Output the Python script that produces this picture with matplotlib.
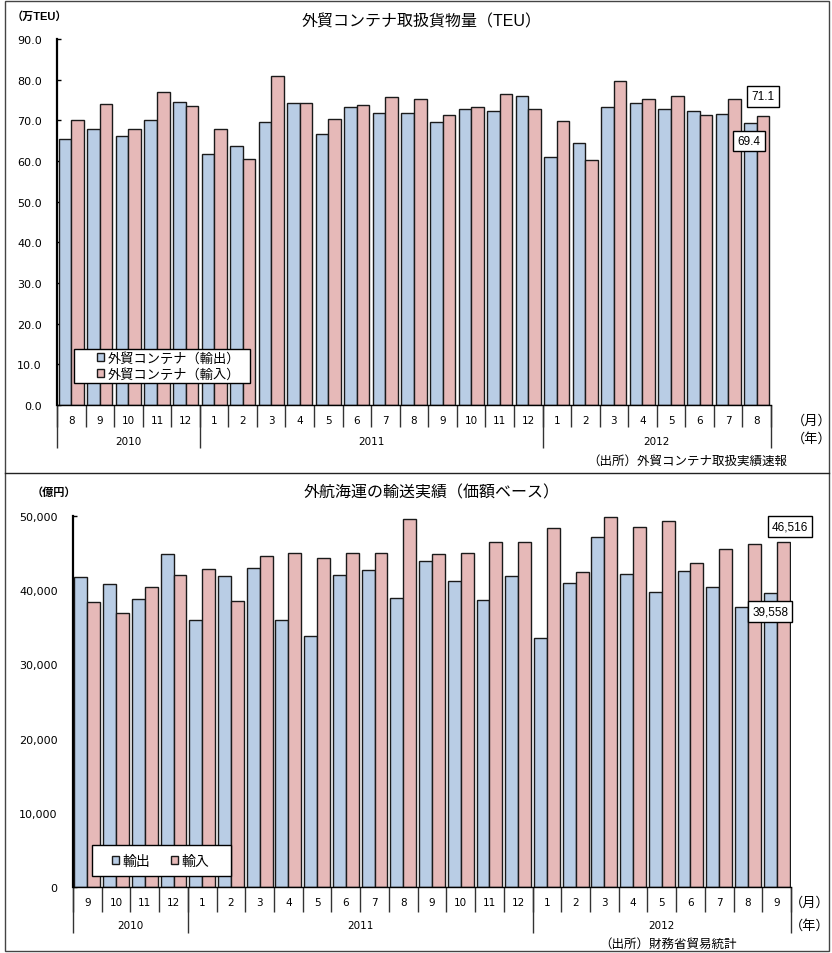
import numpy as np
import matplotlib
matplotlib.use("Agg")
import matplotlib.pyplot as plt
from matplotlib.patches import Patch, Rectangle
from matplotlib.lines import Line2D

plt.rcParams['font.family'] = ['Liberation Sans', 'Noto Sans CJK JP']

# 上: 外貿コンテナ取扱貨物量（万TEU）
teu_years = ['2010', '2011', '2012']
teu_months = [8, 9, 10, 11, 12,
              1, 2, 3, 4, 5, 6, 7, 8, 9, 10, 11, 12,
              1, 2, 3, 4, 5, 6, 7, 8]
teu_year_len = [5, 12, 8]
teu_export = [65.4, 67.8, 66.2, 70.2, 74.6,
              61.6, 63.8, 69.6, 74.2, 66.7, 73.2, 71.7, 71.9, 69.6, 72.9, 72.4, 76.0,
              61.1, 64.5, 73.2, 74.2, 72.7, 72.4, 71.5, 69.4]
teu_import = [70.2, 73.9, 67.8, 76.9, 73.6,
              67.8, 60.4, 81.0, 74.2, 70.4, 73.7, 75.7, 75.2, 71.2, 73.3, 76.5, 72.9,
              69.8, 60.2, 79.6, 75.2, 76.0, 71.2, 75.2, 71.1]

# 下: 外航海運の輸送実績（億円）
val_years = ['2010', '2011', '2012']
val_months = [9, 10, 11, 12,
              1, 2, 3, 4, 5, 6, 7, 8, 9, 10, 11, 12,
              1, 2, 3, 4, 5, 6, 7, 8, 9]
val_year_len = [4, 12, 9]
val_export = [41800, 40900, 38800, 44900,
              36000, 41950, 43030, 35930, 33770, 42090, 42760, 38950, 43900, 41180, 38720, 41860,
              33550, 40970, 47170, 42130, 39750, 42630, 40430, 37730, 39558]
val_import = [38400, 36970, 40430, 42090,
              42900, 38540, 44610, 45010, 44340, 45010, 45010, 49600, 44880, 45010, 46440, 46440,
              48420, 42400, 49870, 48560, 49330, 43660, 45590, 46170, 46516]

BLUE = '#B9CDE5'
PINK = '#E6B9B8'
W, H = 832, 954
NUM_FONT = ['DejaVu Sans']


def fx(px):
    return px / W


def fy(py):
    return 1 - py / H


def draw_panel(ax, months, year_len, years, exp, imp, width, sep1, sep2, ylab_off):
    n = len(months)
    x = np.arange(n)
    ax.bar(x - width / 2, exp, width, color=BLUE, edgecolor='#1a1a1a', linewidth=1.0, zorder=2)
    ax.bar(x + width / 2, imp, width, color=PINK, edgecolor='#1a1a1a', linewidth=1.0, zorder=2)
    ax.set_xlim(-0.5, n - 0.5)
    ax.set_xticks([])
    for s in ['top', 'right']:
        ax.spines[s].set_visible(False)
    ax.spines['left'].set_linewidth(1.6)
    ax.spines['bottom'].set_linewidth(1.0)
    ax.tick_params(axis='y', direction='in', length=3, width=1, pad=11, labelsize=8)
    for lbl in ax.get_yticklabels():
        lbl.set_family(NUM_FONT)

    trans = ax.get_xaxis_transform()
    hpx = ax.get_position().height * H
    # 月の区切り
    bounds = np.arange(n + 1) - 0.5
    ax.vlines(bounds, -sep1 / hpx, 0, transform=trans, colors='#333333', lw=1, clip_on=False)
    for i, m in enumerate(months):
        ax.text(i, -15 / hpx, str(m), transform=trans, ha='center', va='center',
                fontsize=7.5, family=NUM_FONT)
    # 年の区切り
    edges = np.concatenate([[0], np.cumsum(year_len)]) - 0.5
    ax.vlines(edges, -sep2 / hpx, 0, transform=trans, colors='#333333', lw=1, clip_on=False)
    for k, yr in enumerate(years):
        ax.text((edges[k] + edges[k + 1]) / 2, -ylab_off / hpx, yr, transform=trans,
                ha='center', va='center', fontsize=7.5, family=NUM_FONT)
    return x


def legend_box(ax, x0, y0, x1, y1, ax_left, ax_bottom, ax_w, ax_h):
    # 凡例の枠（ピクセル指定 -> 軸座標）
    ax.add_patch(Rectangle(((x0 - ax_left) / ax_w, (ax_bottom - y1) / ax_h),
                           (x1 - x0) / ax_w, (y1 - y0) / ax_h, transform=ax.transAxes,
                           facecolor='white', edgecolor='black', lw=1, zorder=4, clip_on=False))


fig = plt.figure(figsize=(W / 100, H / 100), dpi=100)

# ---- 上のグラフ ----
ax1 = fig.add_axes([fx(57), fy(406), fx(771) - fx(57), fy(40) - fy(406)])
ax1.set_ylim(0, 90)
ax1.set_yticks(np.arange(0, 91, 10))
ax1.set_yticklabels([f'{v:.1f}' for v in np.arange(0, 91, 10)])
x1 = draw_panel(ax1, teu_months, teu_year_len, teu_years, teu_export, teu_import,
                0.44, 22, 43, 36)
legend_box(ax1, 74, 350, 250, 384, 57, 406, 714, 366)
leg1 = ax1.legend(handles=[Patch(facecolor=BLUE, edgecolor='#1a1a1a', label='外貿コンテナ（輸出）'),
                           Patch(facecolor=PINK, edgecolor='#1a1a1a', label='外貿コンテナ（輸入）')],
                  loc='upper left', bbox_to_anchor=((97 - 57) / 714, (406 - 353) / 366),
                  borderaxespad=0, borderpad=0, frameon=False,
                  fontsize=9.5, handlelength=0.55, handleheight=0.55, handletextpad=0.25,
                  labelspacing=0.22)
leg1.set_zorder(5)

box = dict(boxstyle='square,pad=0.35', facecolor='white', edgecolor='black', lw=1)
ax1.annotate(f'{teu_import[-1]:.1f}', (x1[-1] + 0.22, teu_import[-1]), xytext=(0, 14),
             textcoords='offset points', ha='center', va='center', fontsize=8.5, bbox=box, zorder=5)
ax1.annotate(f'{teu_export[-1]:.1f}', (x1[-1] - 0.22, teu_export[-1]), xytext=(-1, -13),
             textcoords='offset points', ha='center', va='center', fontsize=8.5, bbox=box, zorder=5)

fig.text(fx(422), fy(22), '外貿コンテナ取扱貨物量（TEU）', ha='center', va='center', fontsize=11.5)
fig.text(fx(12), fy(17), '（万TEU）', ha='left', va='center', fontsize=8, fontweight='bold')
fig.text(fx(792), fy(421), '（月）', ha='left', va='center', fontsize=9.5)
fig.text(fx(792), fy(439), '（年）', ha='left', va='center', fontsize=9.5)
fig.text(fx(787), fy(462), '（出所）外貿コンテナ取扱実績速報', ha='right', va='center', fontsize=9)

# ---- 下のグラフ ----
ax2 = fig.add_axes([fx(73), fy(888), fx(791) - fx(73), fy(517) - fy(888)])
ax2.set_ylim(0, 50000)
ax2.set_yticks(np.arange(0, 50001, 10000))
ax2.set_yticklabels([f'{v:,}' for v in range(0, 50001, 10000)])
x2 = draw_panel(ax2, val_months, val_year_len, val_years, val_export, val_import,
                0.45, 25, 46, 38)
legend_box(ax2, 92, 846, 231, 877, 73, 888, 718, 371)
leg2 = ax2.legend(handles=[Patch(facecolor=BLUE, edgecolor='#1a1a1a', label='輸出'),
                           Patch(facecolor=PINK, edgecolor='#1a1a1a', label='輸入')],
                  loc='upper left', bbox_to_anchor=((112 - 73) / 718, (888 - 855) / 371), ncol=2,
                  borderaxespad=0, borderpad=0, frameon=False,
                  fontsize=10, handlelength=0.5, handleheight=0.5, handletextpad=0.25,
                  columnspacing=1.5)
leg2.set_zorder(5)
ax2.annotate(f'{val_import[-1]:,}', (x2[-1] + 0.22, val_import[-1]), xytext=(5, 11),
             textcoords='offset points', ha='center', va='center', fontsize=8.5, bbox=box, zorder=5)
ax2.annotate(f'{val_export[-1]:,}', (x2[-1] - 0.22, val_export[-1]), xytext=(0, -13),
             textcoords='offset points', ha='center', va='center', fontsize=8.5, bbox=box, zorder=5)

fig.text(fx(432), fy(493), '外航海運の輸送実績（価額ベース）', ha='center', va='center', fontsize=11.5)
fig.text(fx(32), fy(493), '（億円）', ha='left', va='center', fontsize=8, fontweight='bold')
fig.text(fx(790), fy(903), '（月）', ha='left', va='center', fontsize=9.5)
fig.text(fx(790), fy(926), '（年）', ha='left', va='center', fontsize=9.5)
fig.text(fx(737), fy(945), '（出所）財務省貿易統計', ha='right', va='center', fontsize=9)

# 枠線と区切り線
fig.add_artist(Rectangle((fx(5), fy(952)), fx(829) - fx(5), fy(2) - fy(952),
                         transform=fig.transFigure, fill=False, edgecolor='#444444', lw=1))
fig.add_artist(Line2D([fx(5), fx(829)], [fy(474), fy(474)], transform=fig.transFigure,
                      color='#222222', lw=1))

fig.savefig('out.png', dpi=100)
